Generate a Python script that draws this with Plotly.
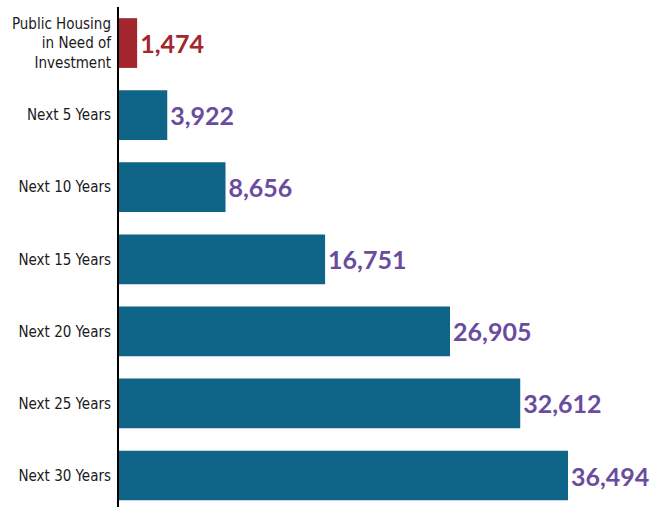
import plotly.graph_objects as go

categories = ["Public Housing<br>in Need of<br>Investment", "Next 5 Years", "Next 10 Years",
              "Next 15 Years", "Next 20 Years", "Next 25 Years", "Next 30 Years"]
values = [1474, 3922, 8656, 16751, 26905, 32612, 36494]
labels = ["1,474", "3,922", "8,656", "16,751", "26,905", "32,612", "36,494"]

bar_colors = ["#a3262e"] + ["#0e6587"] * 6
text_colors = ["#a3262e"] + ["#6a4c9f"] * 6

fig = go.Figure(go.Bar(
    x=values, y=categories, orientation="h",
    marker=dict(color=bar_colors, line=dict(width=0)),
    width=0.69,
    text=labels, textposition="outside", cliponaxis=False, constraintext="none",
    textfont=dict(family="Lato", size=25, color=text_colors, weight="bold"),
    hoverinfo="skip",
))

fig.update_layout(
    width=651, height=507,
    margin=dict(l=119, r=0, t=7, b=0),
    paper_bgcolor="white", plot_bgcolor="white",
    showlegend=False,
    xaxis=dict(range=[0, 43240], visible=False, showgrid=False, zeroline=False),
    yaxis=dict(range=[6.437, -0.5], showgrid=False, zeroline=False, automargin=False,
               showline=True, linecolor="black", linewidth=2, ticks="",
               ticklabelstandoff=3,
               tickfont=dict(family="DejaVu Sans Condensed", size=15, color="#1a1a1a")),
)

fig.write_html("out.html", config={"displayModeBar": False},
               post_script="document.body.style.margin='0';document.body.style.overflow='hidden';")
